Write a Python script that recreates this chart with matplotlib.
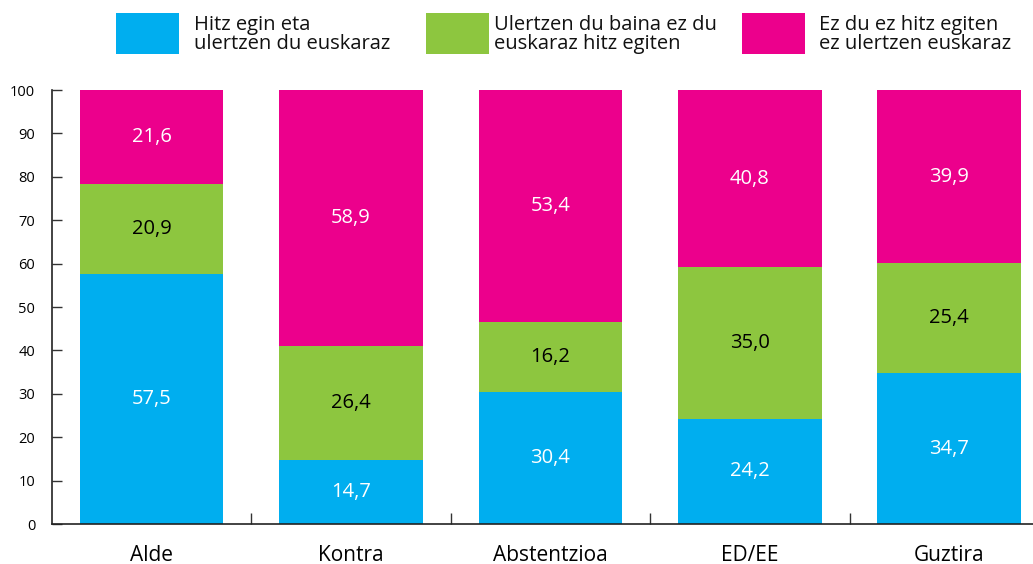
import matplotlib.pyplot as plt
from matplotlib.patches import Rectangle
import numpy as np

plt.rcParams['font.family'] = ['Open Sans', 'DejaVu Sans']

categories = ['Alde', 'Kontra', 'Abstentzioa', 'ED/EE', 'Guztira']
series_labels = ['Hitz egin eta\nulertzen du euskaraz',
                 'Ulertzen du baina ez du\neuskaraz hitz egiten',
                 'Ez du ez hitz egiten\nez ulertzen euskaraz']
hitz_egin = [57.5, 14.7, 30.4, 24.2, 34.7]
ulertzen = [20.9, 26.4, 16.2, 35.0, 25.4]
ez_du = [21.6, 58.9, 53.4, 40.8, 39.9]
y_ticks = [0, 10, 20, 30, 40, 50, 60, 70, 80, 90, 100]

colors = ['#00AEEF', '#8DC63F', '#EC008C']
text_colors = ['white', 'black', 'white']


def fmt(v):
    return f'{v:.1f}'.replace('.', ',')


def main():
    fig = plt.figure(figsize=(10.33, 5.64), dpi=100)
    ax = fig.add_axes([0.0503, 0.0709, 0.9497, 0.7695])

    x = np.arange(len(categories))
    bottom = np.zeros(len(categories))
    for vals, col, tcol in zip([hitz_egin, ulertzen, ez_du], colors, text_colors):
        ax.bar(x, vals, width=0.72, bottom=bottom, color=col, linewidth=0)
        for xi, b, v in zip(x, bottom, vals):
            ax.text(xi, b + v / 2, fmt(v), ha='center', va='center',
                    color=tcol, fontsize=14.5)
        bottom += np.array(vals)

    ax.set_xlim(-0.5, 4.42)
    ax.set_ylim(0, 100)
    ax.set_yticks(y_ticks)
    ax.set_xticks(x)
    ax.set_xticklabels(categories, fontsize=15)
    ax.set_xticks(x[:-1] + 0.5, minor=True)
    ax.tick_params(axis='x', which='major', length=0, pad=15)
    ax.tick_params(axis='x', which='minor', direction='in', length=8,
                   width=1, color='#333333')
    ax.tick_params(axis='y', direction='in', length=7, width=1,
                   color='#333333', pad=12, labelsize=10.5)
    for s in ['top', 'right']:
        ax.spines[s].set_visible(False)
    for s in ['left', 'bottom']:
        ax.spines[s].set_linewidth(1.2)
        ax.spines[s].set_color('#222222')

    # legend drawn by hand to match the layout
    patch_x = [116, 426, 742]
    text_x = [194, 494, 819]
    W, H = 1033, 564
    for px, tx, col, lab in zip(patch_x, text_x, colors, series_labels):
        fig.add_artist(Rectangle((px / W, 1 - 54 / H), 63 / W, 41 / H,
                                 transform=fig.transFigure, color=col, lw=0))
        fig.text(tx / W, 1 - 34.5 / H, lab, ha='left', va='center',
                 fontsize=14.5, linespacing=0.95, color='#111111')

    fig.savefig('out.png', dpi=100)


if __name__ == "__main__":
    main()
